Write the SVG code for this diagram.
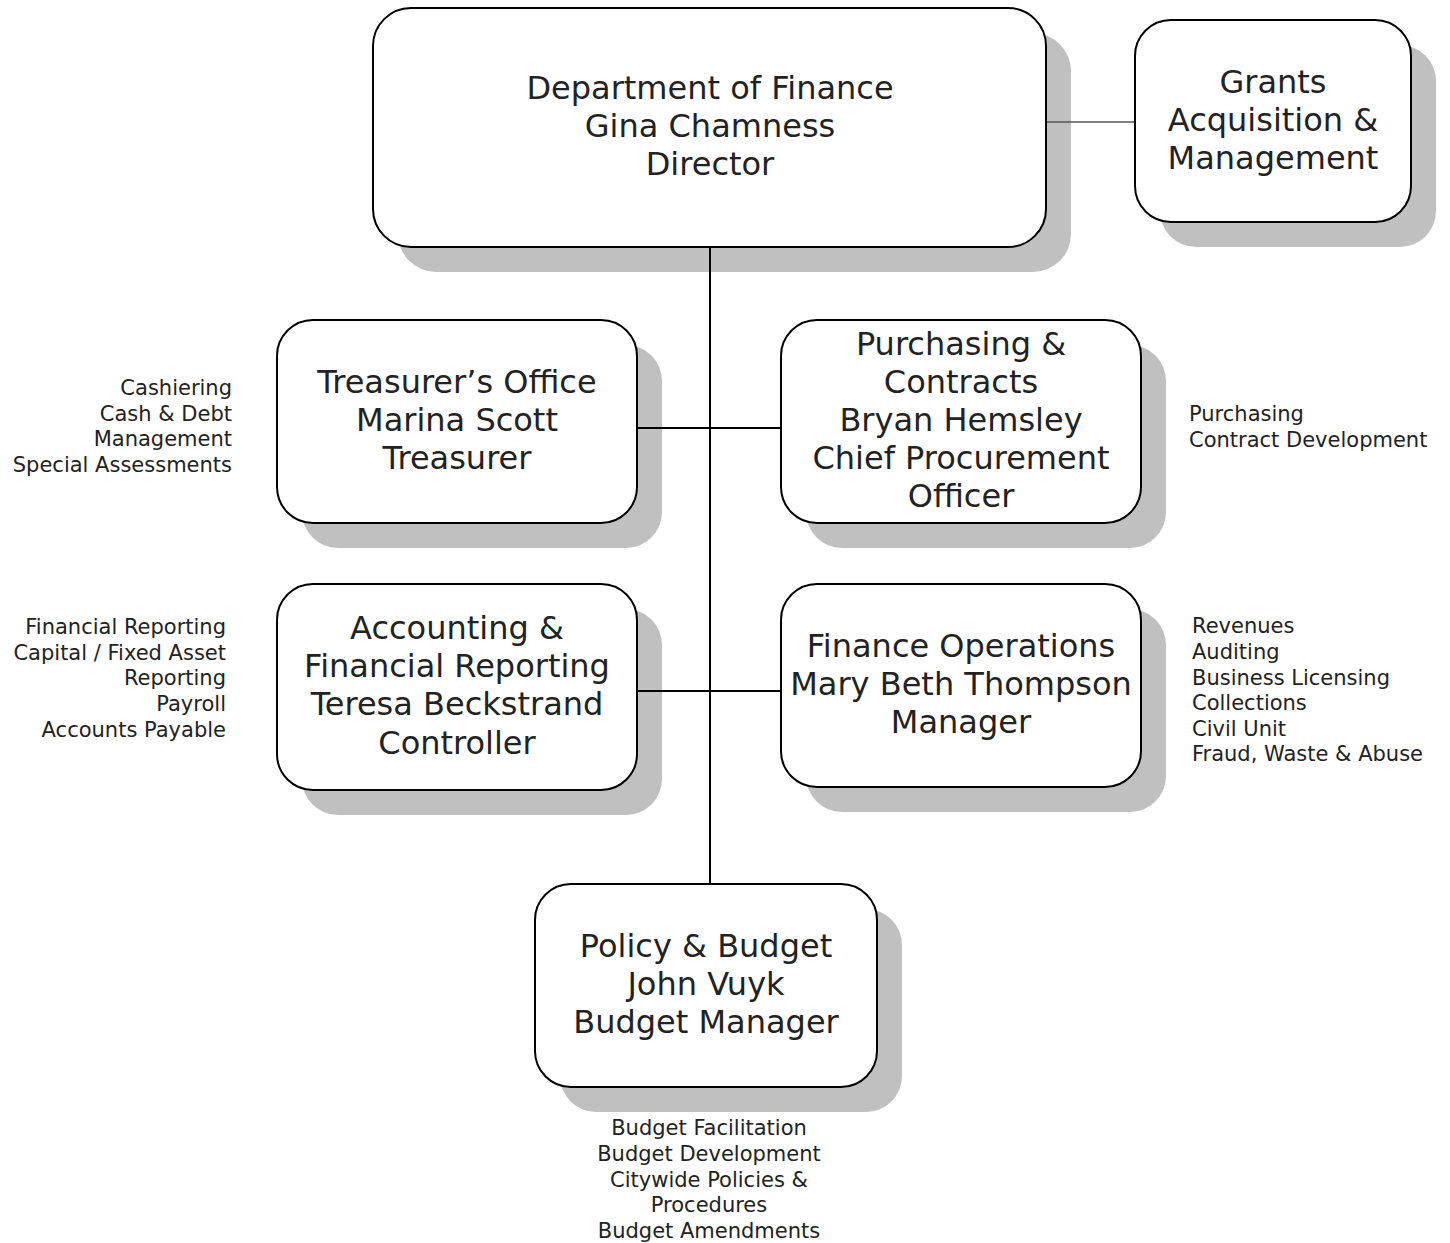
<svg xmlns="http://www.w3.org/2000/svg" width="1450" height="1243" viewBox="0 0 1450 1243">
  <style>
    .shadow { fill: #c0c0c0; }
    .box { fill: #ffffff; stroke: #000000; stroke-width: 2; }
    .title { font-family: "DejaVu Sans", Verdana, sans-serif; font-size: 32px; fill: #222222; text-anchor: middle; }
    .note { font-family: "DejaVu Sans", Verdana, sans-serif; font-size: 21px; fill: #222222; }
    .end { text-anchor: end; }
    .mid { text-anchor: middle; }
    .link { stroke: #000000; stroke-width: 2; fill: none; }
    .thin { stroke: #555555; stroke-width: 1.5; fill: none; }
  </style>

  <!-- drop shadows sit behind everything else -->
  <g id="shadows">
    <rect class="shadow" x="398" y="33" width="673" height="239" rx="38"/>
    <rect class="shadow" x="1160" y="45" width="276" height="202" rx="36"/>
    <rect class="shadow" x="302" y="345" width="360" height="203" rx="36"/>
    <rect class="shadow" x="806" y="345" width="360" height="203" rx="36"/>
    <rect class="shadow" x="302" y="609" width="360" height="206" rx="36"/>
    <rect class="shadow" x="806" y="609" width="360" height="203" rx="36"/>
    <rect class="shadow" x="560" y="909" width="342" height="203" rx="36"/>
  </g>

  <!-- connectors -->
  <g id="connectors">
    <line class="link" x1="710" y1="247" x2="710" y2="884"/>
    <line class="thin" x1="1046" y1="122" x2="1135" y2="122"/>
    <line class="link" x1="637" y1="428" x2="781" y2="428"/>
    <line class="link" x1="637" y1="691" x2="781" y2="691"/>
  </g>

  <!-- Department of Finance -->
  <g id="director">
    <rect class="box" x="373" y="8" width="673" height="239" rx="38"/>
    <text class="title" x="710" y="99">Department of Finance</text>
    <text class="title" x="710" y="137">Gina Chamness</text>
    <text class="title" x="710" y="175">Director</text>
  </g>

  <!-- Grants Acquisition & Management -->
  <g id="grants">
    <rect class="box" x="1135" y="20" width="276" height="202" rx="36"/>
    <text class="title" x="1273" y="93">Grants</text>
    <text class="title" x="1273" y="131">Acquisition &amp;</text>
    <text class="title" x="1273" y="169">Management</text>
  </g>

  <!-- Treasurer's Office -->
  <g id="treasurer">
    <rect class="box" x="277" y="320" width="360" height="203" rx="36"/>
    <text class="title" x="457" y="393">Treasurer’s Office</text>
    <text class="title" x="457" y="431">Marina Scott</text>
    <text class="title" x="457" y="469">Treasurer</text>
    <text class="note end" x="232" y="395">Cashiering</text>
    <text class="note end" x="232" y="420.5">Cash &amp; Debt</text>
    <text class="note end" x="232" y="446">Management</text>
    <text class="note end" x="232" y="471.5">Special Assessments</text>
  </g>

  <!-- Purchasing & Contracts -->
  <g id="purchasing">
    <rect class="box" x="781" y="320" width="360" height="203" rx="36"/>
    <text class="title" x="961" y="355">Purchasing &amp;</text>
    <text class="title" x="961" y="393">Contracts</text>
    <text class="title" x="961" y="431">Bryan Hemsley</text>
    <text class="title" x="961" y="469">Chief Procurement</text>
    <text class="title" x="961" y="507">Officer</text>
    <text class="note" x="1189" y="421">Purchasing</text>
    <text class="note" x="1189" y="446.5">Contract Development</text>
  </g>

  <!-- Accounting & Financial Reporting -->
  <g id="accounting">
    <rect class="box" x="277" y="584" width="360" height="206" rx="36"/>
    <text class="title" x="457" y="639">Accounting &amp;</text>
    <text class="title" x="457" y="677">Financial Reporting</text>
    <text class="title" x="457" y="715">Teresa Beckstrand</text>
    <text class="title" x="457" y="754">Controller</text>
    <text class="note end" x="226" y="634">Financial Reporting</text>
    <text class="note end" x="226" y="660">Capital / Fixed Asset</text>
    <text class="note end" x="226" y="685">Reporting</text>
    <text class="note end" x="226" y="711">Payroll</text>
    <text class="note end" x="226" y="737">Accounts Payable</text>
  </g>

  <!-- Finance Operations -->
  <g id="operations">
    <rect class="box" x="781" y="584" width="360" height="203" rx="36"/>
    <text class="title" x="961" y="657">Finance Operations</text>
    <text class="title" x="961" y="695">Mary Beth Thompson</text>
    <text class="title" x="961" y="733">Manager</text>
    <text class="note" x="1192" y="633">Revenues</text>
    <text class="note" x="1192" y="659">Auditing</text>
    <text class="note" x="1192" y="685">Business Licensing</text>
    <text class="note" x="1192" y="710">Collections</text>
    <text class="note" x="1192" y="736">Civil Unit</text>
    <text class="note" x="1192" y="761">Fraud, Waste &amp; Abuse</text>
  </g>

  <!-- Policy & Budget -->
  <g id="budget">
    <rect class="box" x="535" y="884" width="342" height="203" rx="36"/>
    <text class="title" x="706" y="957">Policy &amp; Budget</text>
    <text class="title" x="706" y="995">John Vuyk</text>
    <text class="title" x="706" y="1033">Budget Manager</text>
    <text class="note mid" x="709" y="1135">Budget Facilitation</text>
    <text class="note mid" x="709" y="1161">Budget Development</text>
    <text class="note mid" x="709" y="1187">Citywide Policies &amp;</text>
    <text class="note mid" x="709" y="1212">Procedures</text>
    <text class="note mid" x="709" y="1238">Budget Amendments</text>
  </g>
</svg>
